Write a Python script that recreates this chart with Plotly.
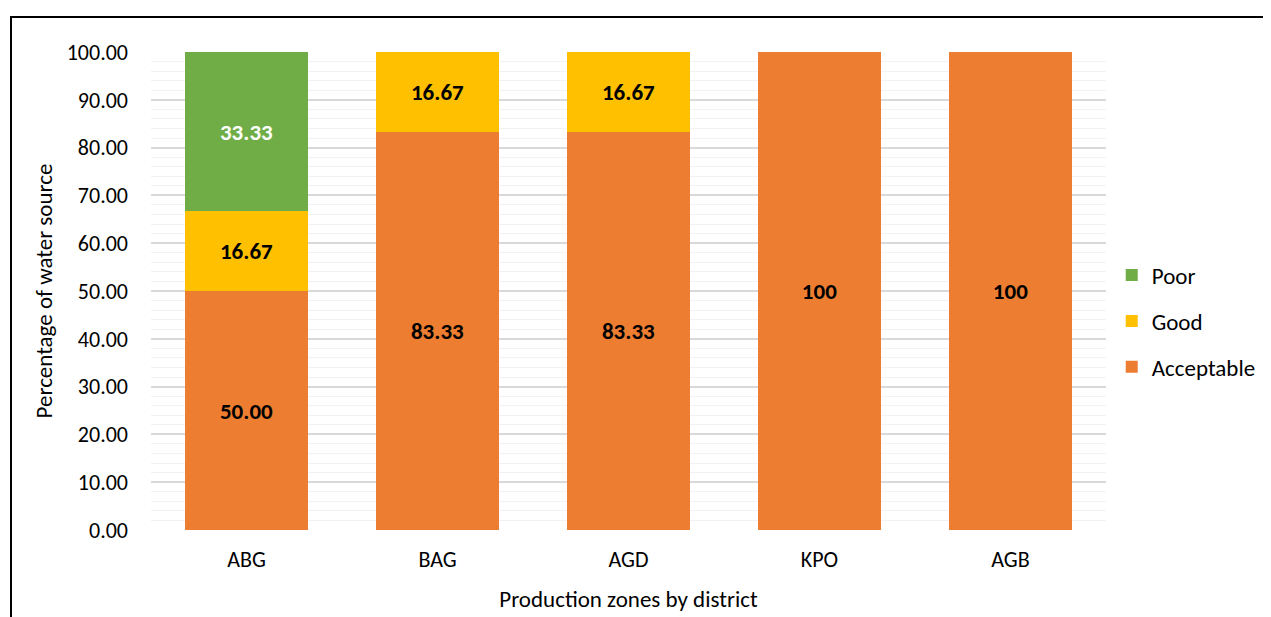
import plotly.graph_objects as go

categories = ["ABG", "BAG", "AGD", "KPO", "AGB"]
acceptable = [50.00, 83.33, 83.33, 100, 100]
good = [16.67, 16.67, 16.67, 0, 0]
poor = [33.33, 0, 0, 0, 0]
acceptable_labels = ["50.00", "83.33", "83.33", "100", "100"]
good_labels = ["16.67", "16.67", "16.67", "", ""]
poor_labels = ["33.33", "", "", "", ""]
y_ticks = [0, 10, 20, 30, 40, 50, 60, 70, 80, 90, 100]

FONT = "Carlito, Lato, 'Open Sans', sans-serif"
OFF = 8  # page body offset
W, H = 1271, 617
L, R, T, B = 151 - OFF, 1106 - OFF, 52 - OFF, 530 - OFF

fig = go.Figure()
series = [
    ("Acceptable", acceptable, acceptable_labels, "#ED7D31", "black", 3),
    ("Good", good, good_labels, "#FFC000", "black", 2),
    ("Poor", poor, poor_labels, "#70AD47", "white", 1),
]
for name, vals, labels, color, tcolor, rank in series:
    fig.add_trace(go.Bar(
        x=categories, y=vals, name=name, legendgroup=name, legendrank=rank,
        marker=dict(color=color, line=dict(width=0)),
        text=labels, textposition="inside", insidetextanchor="middle",
        textangle=0,
        textfont=dict(family=FONT, size=23, color=tcolor, weight="bold"),
        hoverinfo="skip",
    ))

fig.update_layout(
    width=W, height=H,
    margin=dict(l=L, r=W - R, t=T, b=H - B),
    barmode="stack",
    bargap=1 - 123 / 191,
    plot_bgcolor="white", paper_bgcolor="white",
    font=dict(family=FONT, size=22, color="#000000"),
    uniformtext=dict(minsize=23, mode="show"),
    legend=dict(
        traceorder="grouped", x=1.006, xanchor="left", y=0.437, yanchor="middle",
        font=dict(size=23), tracegroupgap=13, itemwidth=30,
    ),
    xaxis=dict(
        title=dict(text="Production zones by district", font=dict(size=23), standoff=18),
        showline=False, ticks="", showgrid=False, tickfont=dict(size=22),
        ticklabelstandoff=14,
    ),
    yaxis=dict(
        title=dict(text="Percentage of water source", font=dict(size=23), standoff=7),
        range=[0, 100], tickvals=y_ticks, tickformat=".2f",
        showgrid=True, gridcolor="#D9D9D9", gridwidth=1.5,
        minor=dict(dtick=2, showgrid=True, gridcolor="#F2F2F2", gridwidth=1),
        zeroline=False, showline=False, ticks="", tickfont=dict(size=22),
        ticklabelstandoff=22,
    ),
)

fig.add_shape(
    type="rect", xref="paper", yref="paper",
    x0=(11 - OFF - L) / (R - L), x1=(1300 - L) / (R - L),
    y0=(B - 700) / (B - T), y1=(B - (17 - OFF)) / (B - T),
    line=dict(color="black", width=2), fillcolor="rgba(0,0,0,0)", layer="above",
)

fig.write_html("out.html")
